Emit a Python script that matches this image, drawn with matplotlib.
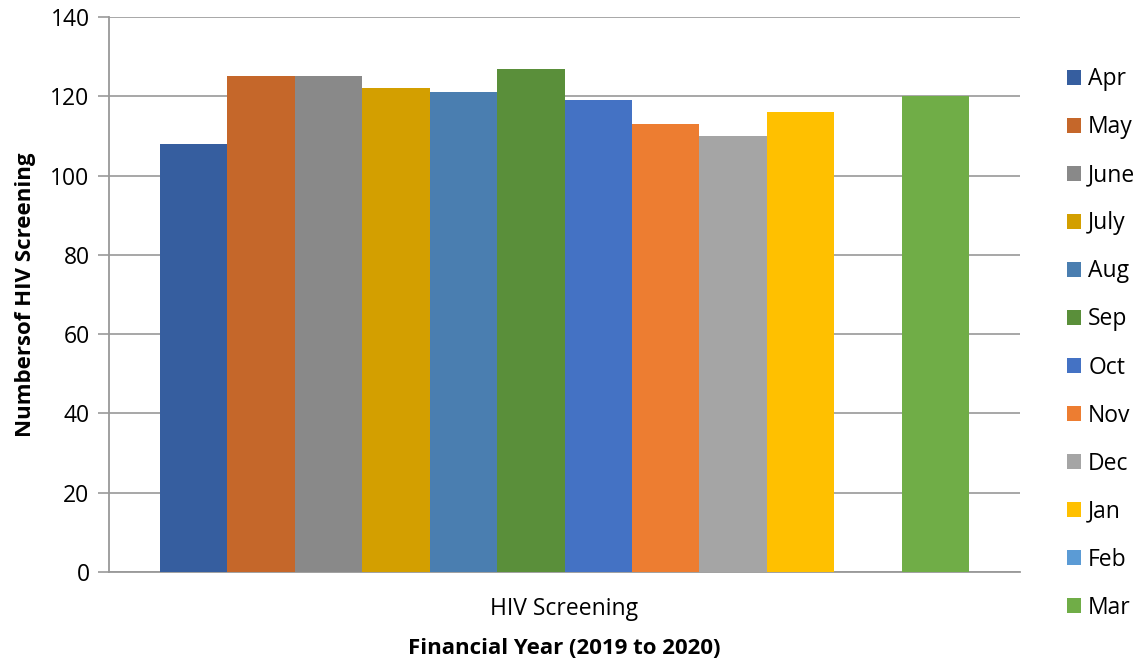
import matplotlib.pyplot as plt
import numpy as np
from matplotlib.patches import Patch

months = ["Apr", "May", "June", "July", "Aug", "Sep", "Oct", "Nov", "Dec", "Jan", "Feb", "Mar"]
values = [108, 125, 125, 122, 121, 127, 119, 113, 110, 116, 0, 120]
colors = ["#365E9F", "#C5672A", "#898989", "#D39F00", "#4A7EB0", "#5A8F3A",
          "#4472C4", "#ED7D31", "#A5A5A5", "#FFC000", "#5B9BD5", "#70AD47"]
category = "HIV Screening"
yticks = [0, 20, 40, 60, 80, 100, 120, 140]

plt.rcParams['font.family'] = ['Open Sans', 'DejaVu Sans']
FS = 16.5

fig = plt.figure(figsize=(11.42, 6.63), dpi=100)
ax = fig.add_axes([109/1142, 1 - 572/663, (1020-109)/1142, (572-17)/663])

group_w = 0.889
n = len(months)
bw = group_w / n
xs = -group_w/2 + bw/2 + np.arange(n) * bw
for x, v, c, m in zip(xs, values, colors, months):
    ax.bar(x, v, width=bw, color=c, label=m, zorder=3, linewidth=0)

ax.set_xlim(-0.5, 0.5)
ax.set_ylim(0, 140)
ax.set_yticks(yticks)
ax.set_xticks([0])
ax.set_xticklabels([category])
ax.tick_params(axis='x', length=0, labelsize=FS, pad=18)
ax.tick_params(axis='y', length=8, width=1.2, color='#999999', labelsize=FS, pad=6)
ax.grid(axis='y', color='#A0A0A0', linewidth=1.3, zorder=0)
for s in ['top', 'right']:
    ax.spines[s].set_visible(False)
for s in ['left', 'bottom']:
    ax.spines[s].set_color('#999999')
    ax.spines[s].set_linewidth(1.3)

ax.set_ylabel("Numbersof HIV Screening", fontsize=16, fontweight='bold', labelpad=10)
ax.set_xlabel("Financial Year (2019 to 2020)", fontsize=16, fontweight='bold', labelpad=12)

handles = [Patch(facecolor=c, label=m) for c, m in zip(colors, months)]
fig.legend(handles=handles, loc='upper left', bbox_to_anchor=(1058/1142, 1 - 58/663),
           frameon=False, fontsize=16.5, handlelength=0.62, handleheight=0.62,
           handletextpad=0.3, labelspacing=1.05, borderaxespad=0)

fig.savefig("out.png", dpi=100)
